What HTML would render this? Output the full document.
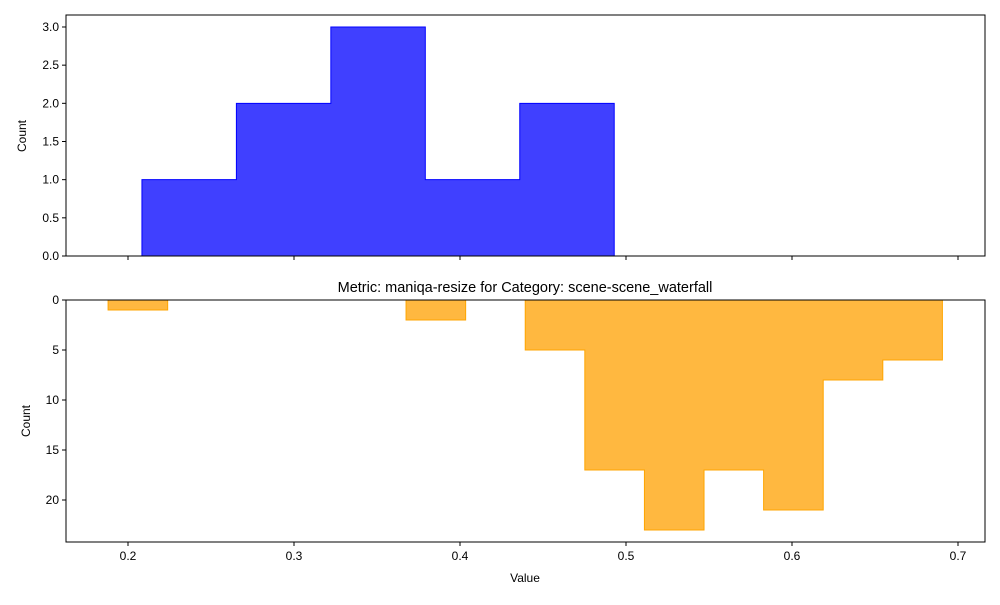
<!DOCTYPE html>
<html><head><meta charset="utf-8"><style>
body{margin:0;background:#fff;font-family:"Liberation Sans",sans-serif;}
svg text{font-family:"Liberation Sans",sans-serif;font-size:12px;fill:#000;}
</style></head><body>
<svg id="chart" width="1000" height="600" xmlns="http://www.w3.org/2000/svg"></svg>
<script>
const topEdges = [0.2084, 0.2653, 0.3222, 0.3791, 0.4360, 0.4929];
const topCounts = [1, 2, 3, 1, 2];
const botStart = 0.188;
const botWidth = 0.0359;
const botCounts = [1,0,0,0,0,2,0,5,17,23,17,21,8,6];
const xTicks = [0.2,0.3,0.4,0.5,0.6,0.7];
const topYTicks = [0,0.5,1,1.5,2,2.5,3];
const botYTicks = [0,5,10,15,20];

const svg = document.getElementById('chart');
const NS = 'http://www.w3.org/2000/svg';
function mk(tag, attrs, parent){const e=document.createElementNS(NS,tag);for(const k in attrs)e.setAttribute(k,attrs[k]);(parent||svg).appendChild(e);return e;}
const L=66,R=985;
const xs = v => 128 + (v-0.2)*1660;
const T0=15,T1=256, yTop = v => 256 - v*(241/3.157);
const B0=300,B1=542, yBot = v => 300 + v*10;

// top histogram
let d='M'+xs(topEdges[0])+','+yTop(0);
topCounts.forEach((c,i)=>{d+=' L'+xs(topEdges[i])+','+yTop(c)+' L'+xs(topEdges[i+1])+','+yTop(c);});
d+=' L'+xs(topEdges[topEdges.length-1])+','+yTop(0)+' Z';
const tp=mk('path',{d:d,fill:'#4040ff',stroke:'#0000ff','stroke-width':1});



// bottom histogram: draw each nonzero run as steps
let bd='';
let i=0;
while(i<botCounts.length){
  if(botCounts[i]===0){i++;continue;}
  let s=i; bd+='M'+xs(botStart+s*botWidth)+','+yBot(0);
  while(i<botCounts.length && botCounts[i]>0){
    bd+=' L'+xs(botStart+i*botWidth)+','+yBot(botCounts[i])+' L'+xs(botStart+(i+1)*botWidth)+','+yBot(botCounts[i]);
    i++;
  }
  bd+=' L'+xs(botStart+i*botWidth)+','+yBot(0)+' Z ';
}
const bp=mk('path',{d:bd,fill:'#ffb840',stroke:'#ffa500','stroke-width':1});



// frames
const f1=mk('rect',{x:L,y:T0,width:R-L,height:T1-T0,fill:'none',stroke:'#000','stroke-width':1});


const f2=mk('rect',{x:L,y:B0,width:R-L,height:B1-B0,fill:'none',stroke:'#000','stroke-width':1});



// x ticks
xTicks.forEach(v=>{
  const x=xs(v);
  mk('line',{x1:x,x2:x,y1:T1,y2:T1+4,stroke:'#000'});
  mk('line',{x1:x,x2:x,y1:B1,y2:B1+4,stroke:'#000'});
  const t=mk('text',{x:x,y:B1+18,'text-anchor':'middle'});t.textContent=String(v);
  
  
});
topYTicks.forEach(v=>{
  const y=yTop(v);
  mk('line',{x1:L-4,x2:L,y1:y,y2:y,stroke:'#000'});
  const t=mk('text',{x:L-7,y:y+4,'text-anchor':'end'});t.textContent=v.toFixed(1);
  
  
});
botYTicks.forEach(v=>{
  const y=yBot(v);
  mk('line',{x1:L-4,x2:L,y1:y,y2:y,stroke:'#000'});
  const t=mk('text',{x:L-7,y:y+4,'text-anchor':'end'});t.textContent=String(v);
  
  
});
</script>
<svg width="1000" height="600" style="position:absolute;left:0;top:0">
<text x="26" y="136" transform="rotate(-90 26 136)" text-anchor="middle">Count</text>
<text x="30" y="421" transform="rotate(-90 30 421)" text-anchor="middle">Count</text>
<text x="525" y="582" text-anchor="middle">Value</text>
<text x="525" y="292" text-anchor="middle" style="font-size:14.5px">Metric: maniqa-resize for Category: scene-scene_waterfall</text>
</svg>
</body></html>
